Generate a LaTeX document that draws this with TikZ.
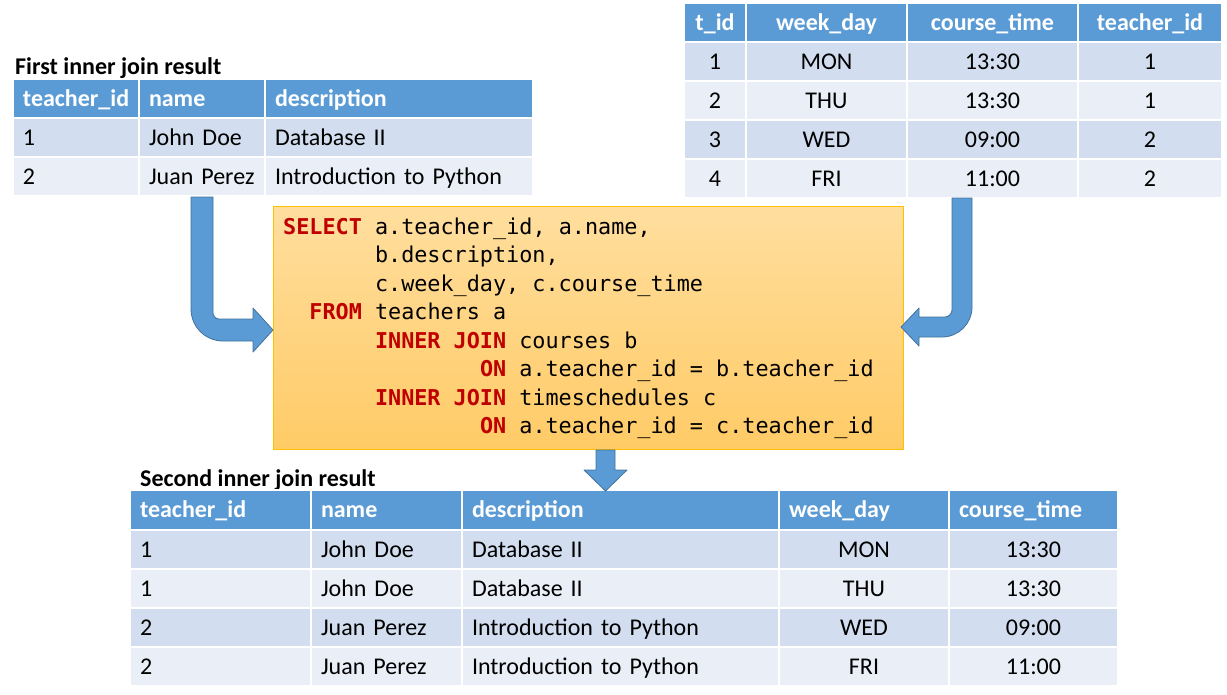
\documentclass[tikz,border=0pt]{standalone}
\usepackage{fontspec}
\setmainfont{Carlito}
\newfontfamily\tablefont{Carlito}[WordSpace=0.6]
\newfontfamily\codefont{DejaVu Sans Mono}
\definecolor{hdr}{HTML}{5B9BD5}
\definecolor{rowa}{HTML}{D2DEEF}
\definecolor{rowb}{HTML}{EAEFF7}
\definecolor{arrline}{HTML}{41719C}
\definecolor{kw}{HTML}{C00000}
\definecolor{sqltop}{HTML}{FFDE9E}
\definecolor{sqlbot}{HTML}{FFCB66}
\definecolor{sqlline}{HTML}{FFC000}
\newcommand\kwd[1]{\textcolor{kw}{\bfseries #1}}
\newcommand\tcell[8]{%
  \pgfmathsetmacro\cellw{#4-#2}\pgfmathsetmacro\cellh{#5-#3}\pgfmathsetmacro\celltw{#4-#2-20}%
  \node[cellbox,#6,align=#7,minimum width=\cellw pt,minimum height=\cellh pt,text width=\celltw pt] (#1) at ({(#2+#4)/2},{(#3+#5)/2}) {#8};}
\tikzset{
  cellbox/.style={draw=white, line width=2pt, inner xsep=10pt, inner ysep=0pt,
    text height=19pt, text depth=4pt, font=\tablefont\fontsize{24}{28}\selectfont},
  hd/.style={fill=hdr, text=white, font=\tablefont\fontsize{24}{28}\selectfont\bfseries},
  ra/.style={fill=rowa},
  rb/.style={fill=rowb},
  ttl/.style={font=\fontsize{24}{28}\selectfont\bfseries, inner sep=0pt},
  code/.style={font=\codefont\fontsize{21.8}{26}\selectfont, inner sep=0pt},
  barrow/.style={fill=hdr, draw=arrline, line width=0.8pt, line join=round},
  sqlbox/.style={top color=sqltop, bottom color=sqlbot, draw=sqlline, line width=1.2pt}
}
\begin{document}
\begin{tikzpicture}[x=1pt,y=-1pt]
\useasboundingbox (0,0) rectangle (1227,694);
% ---------- first inner join result ----------
\node[ttl, anchor=base west] (title1) at (15,74) {First inner join result};
\tcell{a00}{13}{79}{139}{118}{hd}{left}{teacher\_id}
\tcell{a01}{139}{79}{265}{118}{hd}{left}{name}
\tcell{a02}{265}{79}{533}{118}{hd}{left}{description}
\tcell{a10}{13}{118}{139}{157}{ra}{left}{1}
\tcell{a11}{139}{118}{265}{157}{ra}{left}{John Doe}
\tcell{a12}{265}{118}{533}{157}{ra}{left}{Database II}
\tcell{a20}{13}{157}{139}{196}{rb}{left}{2}
\tcell{a21}{139}{157}{265}{196}{rb}{left}{Juan Perez}
\tcell{a22}{265}{157}{533}{196}{rb}{left}{Introduction to Python}
% ---------- timeschedules ----------
\tcell{b00}{684}{3}{746}{42}{hd}{center}{t\_id}
\tcell{b01}{746}{3}{907}{42}{hd}{center}{week\_day}
\tcell{b02}{907}{3}{1078}{42}{hd}{center}{course\_time}
\tcell{b03}{1078}{3}{1222}{42}{hd}{center}{teacher\_id}
\tcell{b10}{684}{42}{746}{81}{ra}{center}{1}
\tcell{b11}{746}{42}{907}{81}{ra}{center}{MON}
\tcell{b12}{907}{42}{1078}{81}{ra}{center}{13:30}
\tcell{b13}{1078}{42}{1222}{81}{ra}{center}{1}
\tcell{b20}{684}{81}{746}{120}{rb}{center}{2}
\tcell{b21}{746}{81}{907}{120}{rb}{center}{THU}
\tcell{b22}{907}{81}{1078}{120}{rb}{center}{13:30}
\tcell{b23}{1078}{81}{1222}{120}{rb}{center}{1}
\tcell{b30}{684}{120}{746}{159}{ra}{center}{3}
\tcell{b31}{746}{120}{907}{159}{ra}{center}{WED}
\tcell{b32}{907}{120}{1078}{159}{ra}{center}{09:00}
\tcell{b33}{1078}{120}{1222}{159}{ra}{center}{2}
\tcell{b40}{684}{159}{746}{198}{rb}{center}{4}
\tcell{b41}{746}{159}{907}{198}{rb}{center}{FRI}
\tcell{b42}{907}{159}{1078}{198}{rb}{center}{11:00}
\tcell{b43}{1078}{159}{1222}{198}{rb}{center}{2}
% ---------- SQL box ----------
\node[sqlbox, anchor=north west, minimum width=630pt, minimum height=243pt, inner sep=0pt] (sql) at (273,206) {};
\node[code, anchor=base west] (q1) at (283,234) {\kwd{SELECT} a.teacher\_id, a.name,};
\node[code, anchor=base west] (q2) at (374.8,262.5) {b.description,};
\node[code, anchor=base west] (q3) at (374.8,291) {c.week\_day, c.course\_time};
\node[code, anchor=base west] (q4) at (309.2,319.5) {\kwd{FROM} teachers a};
\node[code, anchor=base west] (q5) at (374.8,348) {\kwd{INNER JOIN} courses b};
\node[code, anchor=base west] (q6) at (479.8,376.5) {\kwd{ON} a.teacher\_id = b.teacher\_id};
\node[code, anchor=base west] (q7) at (374.8,405) {\kwd{INNER JOIN} timeschedules c};
\node[code, anchor=base west] (q8) at (479.8,433.5) {\kwd{ON} a.teacher\_id = c.teacher\_id};
% ---------- second inner join result ----------
\node[ttl, anchor=base west] (title2) at (140,486) {Second inner join result};
\tcell{c00}{130}{490}{311}{530}{hd}{left}{teacher\_id}
\tcell{c01}{311}{490}{462}{530}{hd}{left}{name}
\tcell{c02}{462}{490}{779}{530}{hd}{left}{description}
\tcell{c03}{779}{490}{949}{530}{hd}{left}{week\_day}
\tcell{c04}{949}{490}{1118}{530}{hd}{left}{course\_time}
\tcell{c10}{130}{530}{311}{569}{ra}{left}{1}
\tcell{c11}{311}{530}{462}{569}{ra}{left}{John Doe}
\tcell{c12}{462}{530}{779}{569}{ra}{left}{Database II}
\tcell{c13}{779}{530}{949}{569}{ra}{center}{MON}
\tcell{c14}{949}{530}{1118}{569}{ra}{center}{13:30}
\tcell{c20}{130}{569}{311}{608}{rb}{left}{1}
\tcell{c21}{311}{569}{462}{608}{rb}{left}{John Doe}
\tcell{c22}{462}{569}{779}{608}{rb}{left}{Database II}
\tcell{c23}{779}{569}{949}{608}{rb}{center}{THU}
\tcell{c24}{949}{569}{1118}{608}{rb}{center}{13:30}
\tcell{c30}{130}{608}{311}{647}{ra}{left}{2}
\tcell{c31}{311}{608}{462}{647}{ra}{left}{Juan Perez}
\tcell{c32}{462}{608}{779}{647}{ra}{left}{Introduction to Python}
\tcell{c33}{779}{608}{949}{647}{ra}{center}{WED}
\tcell{c34}{949}{608}{1118}{647}{ra}{center}{09:00}
\tcell{c40}{130}{647}{311}{686}{rb}{left}{2}
\tcell{c41}{311}{647}{462}{686}{rb}{left}{Juan Perez}
\tcell{c42}{462}{647}{779}{686}{rb}{left}{Introduction to Python}
\tcell{c43}{779}{647}{949}{686}{rb}{center}{FRI}
\tcell{c44}{949}{647}{1118}{686}{rb}{center}{11:00}
% ---------- block arrows ----------
\draw[barrow] (191,197) -- (191,309) .. controls (191,326.7) and (205.3,341) .. (223,341)
  -- (253,341) -- (253,352) -- (273,330) -- (253,308) -- (253,319) -- (219,319)
  .. controls (215.7,319) and (213,315.7) .. (213,313) -- (213,197) -- cycle;
\draw[barrow] (972,198) -- (972,307) .. controls (972,323.6) and (958.6,337) .. (942,337)
  -- (919,337) -- (919,346) -- (901,327) -- (919,308) -- (919,317) -- (945,317)
  .. controls (948.9,317) and (952,313.1) .. (952,310) -- (952,198) -- cycle;
\draw[barrow] (596,450) -- (596,470) -- (584,470) -- (605.5,491) -- (627,470) -- (615,470) -- (615,450) -- cycle;
\end{tikzpicture}
\end{document}
